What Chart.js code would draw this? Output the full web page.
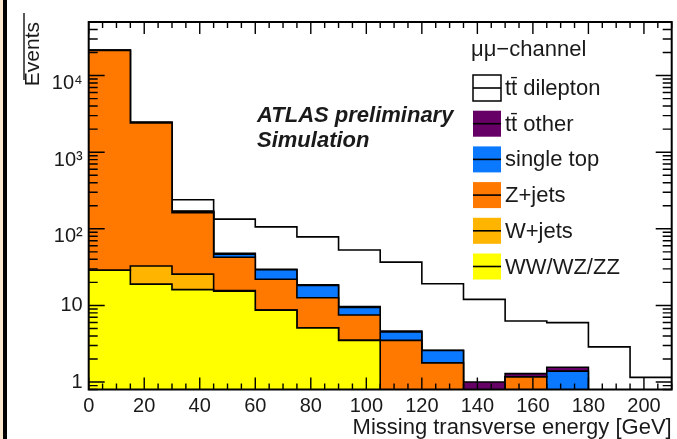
<!DOCTYPE html>
<html><head><meta charset="utf-8">
<script src="https://cdn.jsdelivr.net/npm/chart.js@4.4.1/dist/chart.umd.min.js"></script>
<style>html,body{margin:0;padding:0;background:#fff;}canvas{display:block;}</style>
</head><body>
<canvas id="c" width="677" height="439"></canvas>
<script>
// ---- data ----
const binLowEdges = [0, 15, 30, 45, 60, 75, 90, 105, 120, 135, 150, 165, 180, 195];
const binUpperEdge = 210;
const seriesLabels = ['WW/WZ/ZZ', 'W+jets', 'Z+jets', 'single top', 'tt\u0304 other', 'tt\u0304 dilepton'];
const dibosonValues   = [28.8, 19.0, 16.1, 15.4, 8.7, 5.1, 3.5, 0, 0, 0, 0, 0, 0, 0];
const wjetsValues     = [0, 13.7, 9.5, 0.3, 0, 0, 0, 0, 0, 0, 0, 0, 0, 0];
const zjetsValues     = [21270, 2367, 137, 26.9, 13.3, 7.5, 4.0, 3.5, 1.78, 0, 1.17, 0, 0, 0];
const singleTopValues = [25, 20, 5, 4.0, 7.2, 5.6, 1.9, 1.0, 0.8, 0, 0, 1.39, 0, 0];
const ttOtherValues   = [15, 15, 3, 1.2, 0.4, 0.4, 0.3, 0.15, 0.02, 1.0, 0.12, 0.17, 0, 0];
const ttDileptonValues= [20, 40, 69.4, 86.2, 76.4, 59.9, 43.3, 32.15, 16.6, 11.0, 4.98, 4.41, 2.88, 1.15];
const xTickValues = [0, 20, 40, 60, 80, 100, 120, 140, 160, 180, 200];
const yTickValues = [1, 10, 100, 1000, 10000];
const yTickLabels = ['1', '10', '10\u00B2', '10\u00B3', '10\u2074'];
const seriesColors = ['#ffff00', '#ffb400', '#ff7800', '#0a78ff', '#660066', '#ffffff'];

const Y_MIN = 0.8, Y_MAX = 5e4, X_MIN = 0, X_MAX = 210;
const FLOOR = 0.3; // empty cumulative bins drawn below the axis floor
const FONT = '"Liberation Sans", Arial, Helvetica, sans-serif';
const TXT = '#1a1a1a';

// stacked cumulative step outlines
const components = [dibosonValues, wjetsValues, zjetsValues, singleTopValues, ttOtherValues, ttDileptonValues];
let cum = binLowEdges.map(() => 0);
const datasets = components.map((vals, k) => {
  cum = cum.map((c, i) => c + vals[i]);
  const pts = binLowEdges.map((x, i) => ({x: x, y: cum[i] > 0 ? cum[i] : FLOOR}));
  pts.push({x: binUpperEdge, y: pts[pts.length - 1].y});
  return {
    label: seriesLabels[k], data: pts, stepped: true, fill: 'start',
    borderColor: '#000', borderWidth: 1.6, backgroundColor: seriesColors[k],
    pointRadius: 0, pointHoverRadius: 0, tension: 0
  };
});

const decoPlugin = {
  id: 'deco',
  beforeDraw(chart) {
    const ctx = chart.ctx;
    ctx.save();
    ctx.fillStyle = '#fff'; ctx.fillRect(0, 0, chart.width, chart.height);
    ctx.fillStyle = '#fbe8cf'; ctx.fillRect(0, 0, 3, chart.height);
    ctx.fillStyle = '#000'; ctx.fillRect(3, 0, 4, chart.height);
    ctx.restore();
  },
  afterDatasetsDraw(chart) {
    const ctx = chart.ctx;
    const {left, right, top, bottom} = chart.chartArea;
    const xs = chart.scales.x, ys = chart.scales.y;
    ctx.save();
    ctx.strokeStyle = '#000'; ctx.lineWidth = 1.4;
    ctx.beginPath();
    for (let v = X_MIN; v <= X_MAX; v += 5) {
      const px = xs.getPixelForValue(v);
      const len = v % 20 === 0 ? 12 : 6;
      ctx.moveTo(px, bottom); ctx.lineTo(px, bottom - len);
      ctx.moveTo(px, top); ctx.lineTo(px, top + len);
    }
    for (let d = 0.1; d <= 1e4 + 1; d *= 10) {
      for (let k = 1; k <= 9; k++) {
        const v = k * d;
        if (v < Y_MIN * 0.999 || v > Y_MAX * 1.001) continue;
        const py = ys.getPixelForValue(v);
        const len = k === 1 ? 16 : 9;
        ctx.moveTo(left, py); ctx.lineTo(left + len, py);
        ctx.moveTo(right, py); ctx.lineTo(right - len, py);
      }
    }
    ctx.stroke();
    ctx.lineWidth = 2;
    ctx.strokeRect(left, top, right - left, bottom - top);
    ctx.restore();
  },
  afterDraw(chart) {
    const ctx = chart.ctx;
    ctx.save();
    // y title artifact bar
    ctx.strokeStyle = '#222'; ctx.lineWidth = 1.5;
    ctx.beginPath(); ctx.moveTo(24, 13); ctx.lineTo(24, 80); ctx.stroke();
    // ATLAS label
    ctx.fillStyle = TXT;
    ctx.font = 'italic bold 22px ' + FONT;
    ctx.textAlign = 'left'; ctx.textBaseline = 'alphabetic';
    ctx.fillText('ATLAS preliminary', 257, 121.5);
    ctx.fillText('Simulation', 257, 146.5);
    // legend
    ctx.font = '22px ' + FONT;
    ctx.textBaseline = 'middle';
    ctx.fillText('\u03BC\u03BC\u2212channel', 471, 50);
    const ds = chart.data.datasets;
    const boxX = 473, boxW = 28, boxH = 26, textX = 505;
    for (let r = 0; r < ds.length; r++) {
      const d = ds[ds.length - 1 - r];
      const cy = 88 + r * 35.7;
      ctx.fillStyle = d.backgroundColor;
      ctx.fillRect(boxX, cy - boxH / 2, boxW, boxH);
      ctx.strokeStyle = '#000';
      if (r === 0) { ctx.lineWidth = 1.5; ctx.strokeRect(boxX, cy - boxH / 2, boxW, boxH); }
      ctx.lineWidth = 1.6;
      ctx.beginPath(); ctx.moveTo(boxX, cy); ctx.lineTo(boxX + boxW, cy); ctx.stroke();
      ctx.fillStyle = TXT;
      ctx.fillText(d.label, textX, cy + 1);
    }
    ctx.restore();
  }
};

new Chart(document.getElementById('c'), {
  type: 'line',
  data: {datasets: datasets},
  options: {
    responsive: false, animation: false, events: [],
    layout: {padding: {left: 0, right: 5.3, top: 12.7, bottom: 0}},
    plugins: {legend: {display: false}, tooltip: {enabled: false}, filler: {propagate: false}},
    scales: {
      x: {
        type: 'linear', min: X_MIN, max: X_MAX,
        grid: {display: false, drawTicks: false}, border: {display: false},
        afterBuildTicks: s => { s.ticks = xTickValues.map(v => ({value: v})); },
        afterFit: s => { s.height = 49.5; },
        ticks: {autoSkip: false, maxRotation: 0, padding: 5, color: TXT,
                font: {family: FONT, size: 20}, callback: v => String(v)},
        title: {display: true, text: 'Missing transverse energy [GeV]', align: 'end', color: TXT,
                font: {family: FONT, size: 22, lineHeight: 1.0}, padding: {top: 0, bottom: 0}}
      },
      y: {
        type: 'logarithmic', min: Y_MIN, max: Y_MAX,
        grid: {display: false, drawTicks: false}, border: {display: false},
        afterBuildTicks: s => { s.ticks = yTickValues.map(v => ({value: v})); },
        afterFit: s => { s.width = 88.7; },
        ticks: {autoSkip: false, padding: 6, color: TXT,
                font: ctx => ({family: FONT, size: 20, lineHeight: 0.8}),
                callback: v => {
                  const lab = yTickLabels[yTickValues.indexOf(v)];
                  return v >= 100 ? ['', lab] : lab;
                }},
        title: {display: true, text: 'Events', align: 'end', color: TXT,
                font: {family: FONT, size: 21, lineHeight: 1.2}, padding: {top: 21, bottom: 0}}
      }
    }
  },
  plugins: [decoPlugin]
});
</script>
</body></html>
